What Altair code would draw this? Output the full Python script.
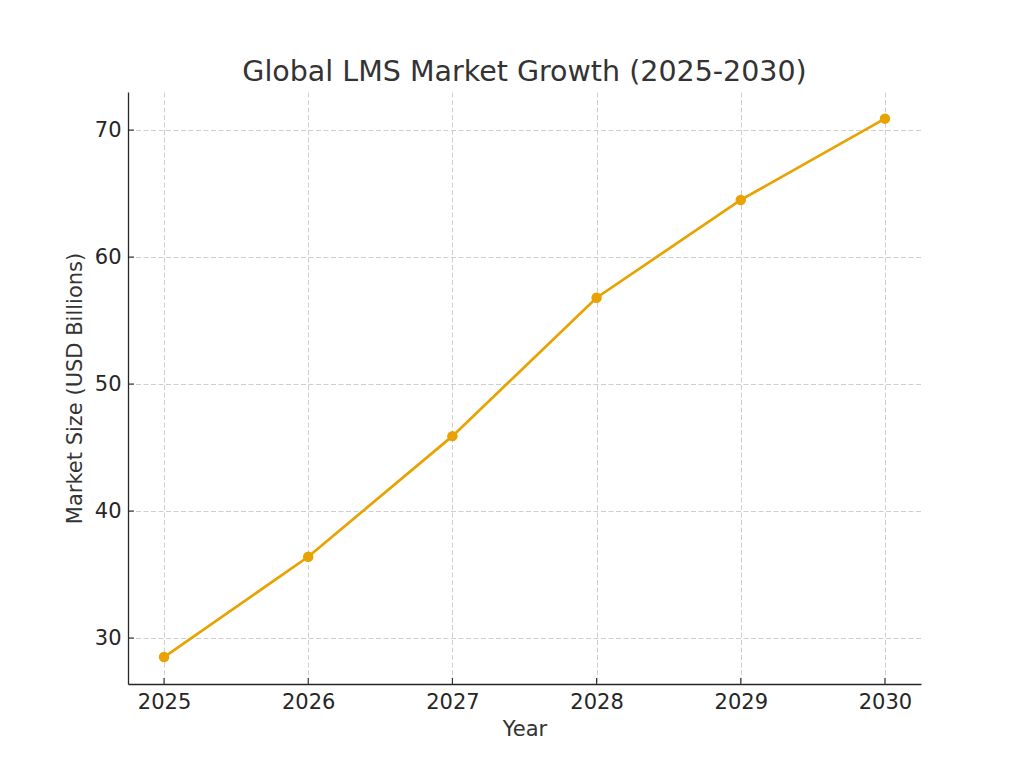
import altair as alt
import pandas as pd

years = [2025, 2026, 2027, 2028, 2029, 2030]
market_size = [28.5, 36.4, 45.9, 56.8, 64.5, 70.9]
y_ticks = [30, 40, 50, 60, 70]

df = pd.DataFrame({"Year": years, "Market": market_size})
df_yt = pd.DataFrame({"v": y_ticks})

FONT = "DejaVu Sans"
ORANGE = "#E8A202"
W, H = 793, 592

x_scale = alt.Scale(domain=[2024.75, 2030.25], nice=False, zero=False)
y_scale = alt.Scale(domain=[26.38, 73.0], nice=False, zero=False)

x_axis = alt.Axis(values=years, format="d", title="Year", tickSize=0,
                  labelPadding=7, titlePadding=6, grid=True,
                  gridDash=[5, 2.5], gridColor="#c8c8c8", gridWidth=0.9,
                  domainColor="#262626", domainWidth=1.3,
                  labelFontSize=21, titleFontSize=21, labelFont=FONT, titleFont=FONT,
                  labelColor="#262626", titleColor="#333333", titleFontWeight="normal",
                  labelFlush=False)
y_axis = alt.Axis(values=y_ticks, format="d", title="Market Size (USD Billions)", tickSize=0,
                  labelPadding=7, titlePadding=9, grid=True,
                  gridDash=[5, 2.5], gridColor="#c8c8c8", gridWidth=0.9,
                  domainColor="#262626", domainWidth=1.3,
                  labelFontSize=21, titleFontSize=21, labelFont=FONT, titleFont=FONT,
                  labelColor="#262626", titleColor="#333333", titleFontWeight="normal",
                  labelFlush=False)

base = alt.Chart(df)

line = base.mark_line(color=ORANGE, strokeWidth=2.7).encode(
    x=alt.X("Year:Q", scale=x_scale, axis=x_axis),
    y=alt.Y("Market:Q", scale=y_scale, axis=y_axis),
)
pts = base.mark_circle(color=ORANGE, size=110, opacity=1).encode(
    x=alt.X("Year:Q", scale=x_scale),
    y=alt.Y("Market:Q", scale=y_scale),
)
# inward ticks (matplotlib style)
xticks = base.mark_rule(color="#262626", strokeWidth=1.1).encode(
    x=alt.X("Year:Q", scale=x_scale),
    y=alt.value(H), y2=alt.value(H - 6),
)
yticks = alt.Chart(df_yt).mark_rule(color="#262626", strokeWidth=1.1).encode(
    y=alt.Y("v:Q", scale=y_scale),
    x=alt.value(0), x2=alt.value(6),
)

chart = alt.layer(line, pts, xticks, yticks).properties(
    width=W, height=H,
    title=alt.Title("Global LMS Market Growth (2025-2030)", font=FONT, fontSize=28.5,
                    fontWeight="normal", color="#333333", anchor="middle",
                    baseline="alphabetic", offset=10, dy=27),
    autosize=alt.AutoSizeParams(type="none"),
    padding={"left": 128, "top": 92, "right": 103, "bottom": 84},
    background="white",
).configure_view(stroke=None, strokeWidth=0)

chart.save("out.html", embed_options={"renderer": "svg", "actions": False})
